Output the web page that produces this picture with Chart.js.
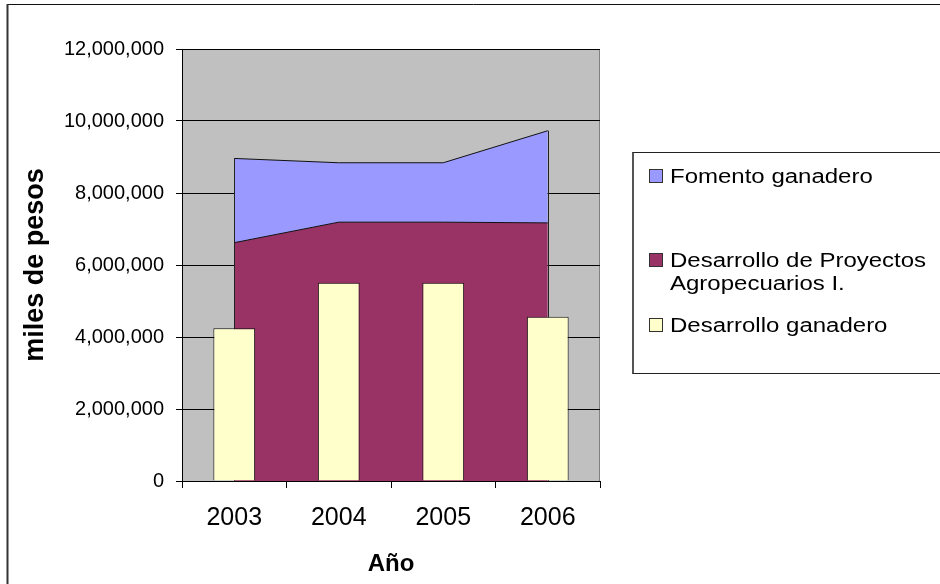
<!DOCTYPE html>
<html>
<head>
<meta charset="utf-8">
<script src="https://cdn.jsdelivr.net/npm/chart.js@4.4.1/dist/chart.umd.min.js"></script>
<style>
  html, body { margin: 0; padding: 0; background: #fff; overflow: hidden; }
  #wrap { position: relative; width: 940px; height: 584px; }
  #legend {
    position: absolute; left: 632px; top: 152px; width: 330px; height: 222px;
    border-top: 1px solid #222; border-bottom: 1px solid #222; border-left: 2px solid #555;
    box-sizing: border-box;
    font-family: "Liberation Sans", Arial, sans-serif; font-size: 20px; color: #000;
  }
  .item { position: absolute; left: 0; }
  .sw { position: absolute; left: 15px; width: 14px; height: 14px; box-sizing: border-box; border: 1px solid #333; }
  .txt { position: absolute; left: 36px; white-space: nowrap; line-height: 23px; transform: scaleX(1.2); transform-origin: 0 0; }
</style>
</head>
<body>
<div id="wrap">
  <canvas id="c" width="940" height="584"></canvas>
  <div id="legend"></div>
</div>
<script>
// Categories and series (miles de pesos)
const years = ['2003', '2004', '2005', '2006'];
const desarrolloGanadero = [4240000, 5510000, 5510000, 4560000];
const proyectosAgropecuarios = [6620000, 7190000, 7190000, 7170000];
const fomentoGanadero = [2340000, 1650000, 1650000, 2560000];
const yTicks = [0, 2000000, 4000000, 6000000, 8000000, 10000000, 12000000];

const FONT = '"Liberation Sans", Arial, sans-serif';

// Page frame and grey plot background
const framePlugin = {
  id: 'frame',
  beforeDraw(chart) {
    const { ctx, chartArea: a } = chart;
    ctx.save();
    ctx.fillStyle = '#fff';
    ctx.fillRect(0, 0, chart.width, chart.height);
    ctx.strokeStyle = '#111';
    ctx.lineWidth = 1;
    ctx.beginPath(); ctx.moveTo(7, 4.5); ctx.lineTo(chart.width, 4.5); ctx.stroke();
    ctx.strokeStyle = '#333';
    ctx.lineWidth = 2;
    ctx.beginPath(); ctx.moveTo(7.5, 4); ctx.lineTo(7.5, chart.height); ctx.stroke();
    ctx.fillStyle = '#C0C0C0';
    ctx.fillRect(a.left, a.top, a.right - a.left, a.bottom - a.top);
    ctx.strokeStyle = '#808080';
    ctx.lineWidth = 1;
    ctx.beginPath(); ctx.moveTo(a.right - 0.5, a.top); ctx.lineTo(a.right - 0.5, a.bottom); ctx.stroke();
    ctx.restore();
  }
};

// Closing vertical edges of the stacked areas at the first and last category
const areaEdges = {
  id: 'areaEdges',
  afterDatasetDraw(chart, args) {
    if (args.index !== 0) return;
    const low = chart.getDatasetMeta(0).data;
    const high = chart.getDatasetMeta(1).data;
    const base = chart.scales.y.getPixelForValue(0);
    const { ctx } = chart;
    ctx.save();
    ctx.strokeStyle = '#222';
    ctx.lineWidth = 1;
    [0, low.length - 1].forEach(i => {
      const x = Math.round(low[i].x) + 0.5;
      ctx.beginPath();
      ctx.moveTo(x, base);
      ctx.lineTo(x, high[i].y);
      ctx.stroke();
    });
    ctx.restore();
  }
};

const chart = new Chart(document.getElementById('c'), {
  data: {
    labels: years,
    datasets: [
      {
        type: 'line', label: 'Desarrollo de Proyectos Agropecuarios I.',
        data: proyectosAgropecuarios, stack: 'areas', order: 2,
        fill: 'origin', backgroundColor: '#993366', borderColor: '#111', borderWidth: 1,
        tension: 0, pointRadius: 0
      },
      {
        type: 'line', label: 'Fomento ganadero',
        data: fomentoGanadero, stack: 'areas', order: 2,
        fill: '-1', backgroundColor: '#9999FF', borderColor: '#111', borderWidth: 1,
        tension: 0, pointRadius: 0
      },
      {
        type: 'bar', label: 'Desarrollo ganadero',
        data: desarrolloGanadero, stack: 'bars', order: 1,
        backgroundColor: '#FFFFCC', borderColor: '#111', borderWidth: 1,
        barPercentage: 0.4, categoryPercentage: 1
      }
    ]
  },
  options: {
    responsive: false,
    animation: false,
    events: [],
    layout: { padding: { left: 0, top: 49, right: 340, bottom: 0 } },
    plugins: { legend: { display: false }, tooltip: { enabled: false } },
    scales: {
      x: {
        offset: true,
        grid: { display: true, offset: true, drawOnChartArea: false, color: '#000', tickLength: 7, tickWidth: 1 },
        border: { display: true, color: '#000', width: 1 },
        ticks: { color: '#000', font: { family: FONT, size: 25 }, padding: 15, maxRotation: 0 },
        title: { display: true, text: 'Año', color: '#000', font: { family: FONT, size: 24, weight: 'bold' }, padding: { top: 0, bottom: 5 } },
        afterFit(s) { s.height = 103; }
      },
      y: {
        stacked: true,
        min: 0, max: 12000000,
        afterBuildTicks(s) { s.ticks = yTicks.map(v => ({ value: v })); },
        grid: { color: '#000', tickLength: 6, lineWidth: 1 },
        border: { display: true, color: '#000', width: 1 },
        ticks: {
          color: '#000', font: { family: FONT, size: 20 }, padding: 12,
          callback: v => v.toLocaleString('en-US')
        },
        title: { display: true, text: 'miles de pesos', color: '#000', font: { family: FONT, size: 27, weight: 'bold' }, padding: { top: 19, bottom: 0 } },
        afterFit(s) { s.width = 182; }
      }
    }
  },
  plugins: [framePlugin, areaEdges]
});

// Legend built from the datasets, listed top to bottom as stacked
const legendOrder = [1, 0, 2];
const legendTops = [12, 96, 161];
const legendEl = document.getElementById('legend');
legendOrder.forEach((di, k) => {
  const ds = chart.data.datasets[di];
  const item = document.createElement('div');
  item.className = 'item';
  item.style.top = legendTops[k] + 'px';
  const sw = document.createElement('div');
  sw.className = 'sw';
  sw.style.background = ds.backgroundColor;
  sw.style.top = '4px';
  const txt = document.createElement('div');
  txt.className = 'txt';
  txt.innerHTML = di === 0 ? 'Desarrollo de Proyectos<br>Agropecuarios I.' : ds.label;
  item.appendChild(sw);
  item.appendChild(txt);
  legendEl.appendChild(item);
});
</script>
</body>
</html>
